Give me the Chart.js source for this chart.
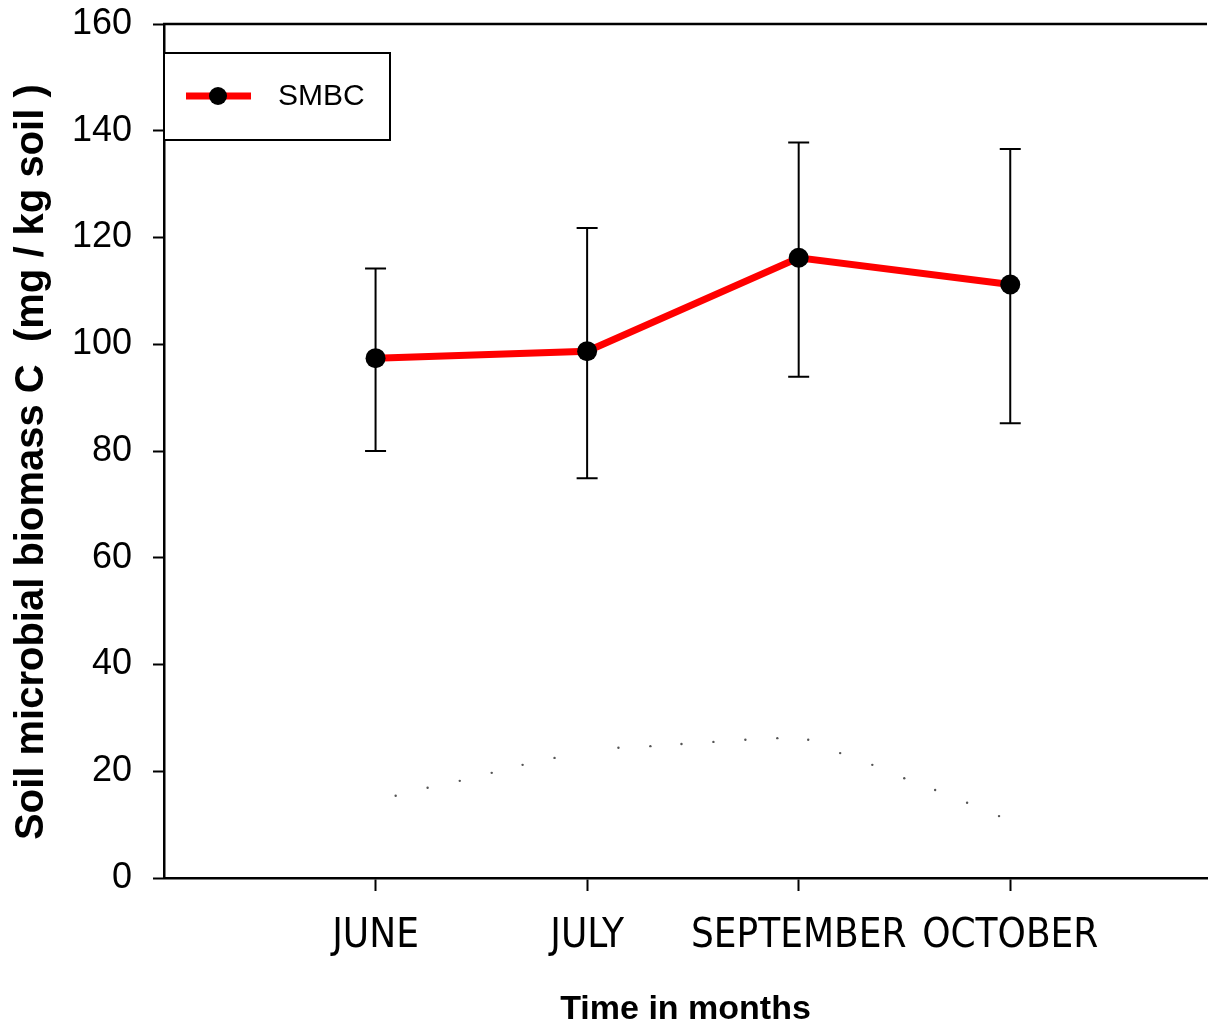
<!DOCTYPE html>
<html>
<head>
<meta charset="utf-8">
<script src="https://cdn.jsdelivr.net/npm/chart.js@4.4.1/dist/chart.umd.min.js"></script>
<style>
  html, body { margin: 0; padding: 0; background: #fff; overflow: hidden; }
  #wrap { width: 1217px; height: 1027px; }
</style>
</head>
<body>
<div id="wrap"><canvas id="chart"></canvas></div>
<script>
// datos
const months = ['JUNE', 'JULY', 'SEPTEMBER', 'OCTOBER'];
const monthPos = [1, 2, 3, 4];
const smbcMean = [97.4, 98.7, 116.2, 111.2];
const smbcUpper = [114.2, 121.8, 137.8, 136.6];
const smbcLower = [80.0, 74.9, 93.9, 85.2];
const yTicks = [0, 20, 40, 60, 80, 100, 120, 140, 160];

// puntitos grises tenues de la figura
const dotsX = [1.095, 1.246, 1.398, 1.549, 1.695, 1.846, 2.148, 2.299, 2.446, 2.597, 2.748, 2.899, 3.045, 3.196, 3.348, 3.499, 3.645, 3.796, 3.947];
const dotsY = [15.4, 16.9, 18.2, 19.7, 21.2, 22.5, 24.4, 24.7, 25.1, 25.5, 25.9, 26.2, 25.9, 23.4, 21.2, 18.7, 16.5, 14.1, 11.6];

const FONT = "'Liberation Sans', Arial, sans-serif";
const NARROW = "'Liberation Sans Narrow', 'Arial Narrow', 'DejaVu Sans Condensed', sans-serif";

// barras de error
const errorBars = {
  id: 'errorBars',
  beforeDatasetsDraw(chart) {
    const { ctx, scales: { x, y } } = chart;
    ctx.save();
    ctx.strokeStyle = '#000';
    ctx.lineWidth = 2;
    monthPos.forEach((m, i) => {
      const px = x.getPixelForValue(m);
      const top = y.getPixelForValue(smbcUpper[i]);
      const bot = y.getPixelForValue(smbcLower[i]);
      ctx.beginPath();
      ctx.moveTo(px, top); ctx.lineTo(px, bot);
      ctx.moveTo(px - 10.5, top); ctx.lineTo(px + 10.5, top);
      ctx.moveTo(px - 10.5, bot); ctx.lineTo(px + 10.5, bot);
      ctx.stroke();
    });
    ctx.restore();
  }
};

// borde superior y leyenda en caja
const frameLegend = {
  id: 'frameLegend',
  afterDraw(chart) {
    const { ctx, chartArea } = chart;
    ctx.save();
    ctx.strokeStyle = '#000';
    ctx.lineWidth = 2.5;
    ctx.beginPath();
    ctx.moveTo(chartArea.left - 1, chartArea.top);
    ctx.lineTo(chartArea.right, chartArea.top);
    ctx.stroke();

    const ds = chart.data.datasets[0];
    ctx.fillStyle = '#fff';
    ctx.fillRect(164, 53, 226, 87);
    ctx.lineWidth = 2;
    ctx.strokeRect(164, 53, 226, 87);
    ctx.strokeStyle = ds.borderColor;
    ctx.lineWidth = 7;
    ctx.beginPath();
    ctx.moveTo(186, 96); ctx.lineTo(251, 96);
    ctx.stroke();
    ctx.fillStyle = '#000';
    ctx.beginPath();
    ctx.arc(218, 96, 9, 0, Math.PI * 2);
    ctx.fill();
    ctx.font = '30px ' + FONT;
    ctx.textBaseline = 'middle';
    ctx.fillText(ds.label, 278, 97);
    ctx.restore();
  }
};

const noPad = (s) => { s.paddingTop = 0; s.paddingBottom = 0; s.paddingLeft = 0; s.paddingRight = 0; };

const ctx = document.getElementById('chart').getContext('2d');
new Chart(ctx, {
  type: 'scatter',
  data: {
    datasets: [{
      label: 'SMBC',
      data: monthPos.map((m, i) => ({ x: m, y: smbcMean[i] })),
      showLine: true,
      borderColor: '#ff0000',
      borderWidth: 7,
      pointRadius: 10,
      pointHoverRadius: 10,
      pointBackgroundColor: '#000',
      pointBorderColor: '#000',
      pointBorderWidth: 0,
      order: 0
    }, {
      label: 'dots',
      data: dotsX.map((v, i) => ({ x: v, y: dotsY[i] })),
      showLine: false,
      pointRadius: 1.2,
      pointBackgroundColor: '#555',
      pointBorderWidth: 0,
      order: 1
    }]
  },
  options: {
    responsive: true,
    maintainAspectRatio: false,
    devicePixelRatio: 1,
    animation: false,
    layout: { padding: { top: 24, left: 0, right: 0, bottom: 0 } },
    plugins: {
      legend: { display: false },
      tooltip: { enabled: false }
    },
    scales: {
      x: {
        type: 'linear',
        min: 0,
        max: 4.93,
        afterFit: (s) => { s.height = 149; noPad(s); },
        afterBuildTicks: (s) => { s.ticks = monthPos.map(v => ({ value: v })); },
        ticks: {
          callback: (v) => months[monthPos.indexOf(v)] || '',
          font: { family: NARROW, size: 40 },
          color: '#000',
          padding: 22,
          maxRotation: 0,
          autoSkip: false
        },
        grid: { drawOnChartArea: false, tickLength: 13, tickWidth: 2, tickColor: '#000' },
        border: { color: '#000', width: 2.5 },
        title: {
          display: true,
          text: 'Time in months',
          font: { family: FONT, size: 34, weight: 'bold', lineHeight: 1 },
          color: '#000',
          padding: { top: 0, bottom: 0 }
        }
      },
      y: {
        min: 0,
        max: 160,
        afterFit: (s) => { s.width = 164; noPad(s); },
        afterBuildTicks: (s) => { s.ticks = yTicks.map(v => ({ value: v })); },
        ticks: {
          font: { family: FONT, size: 36 },
          color: '#000',
          padding: 21
        },
        grid: { drawOnChartArea: false, tickLength: 11, tickWidth: 2, tickColor: '#000' },
        border: { color: '#000', width: 2.5 },
        title: {
          display: true,
          text: 'Soil microbial biomass C  (mg / kg soil )  ',
          font: { family: FONT, size: 40, weight: 'bold', lineHeight: 1.1 },
          color: '#000',
          padding: { top: 10, bottom: 0 }
        }
      }
    }
  },
  plugins: [errorBars, frameLegend]
});
</script>
</body>
</html>
